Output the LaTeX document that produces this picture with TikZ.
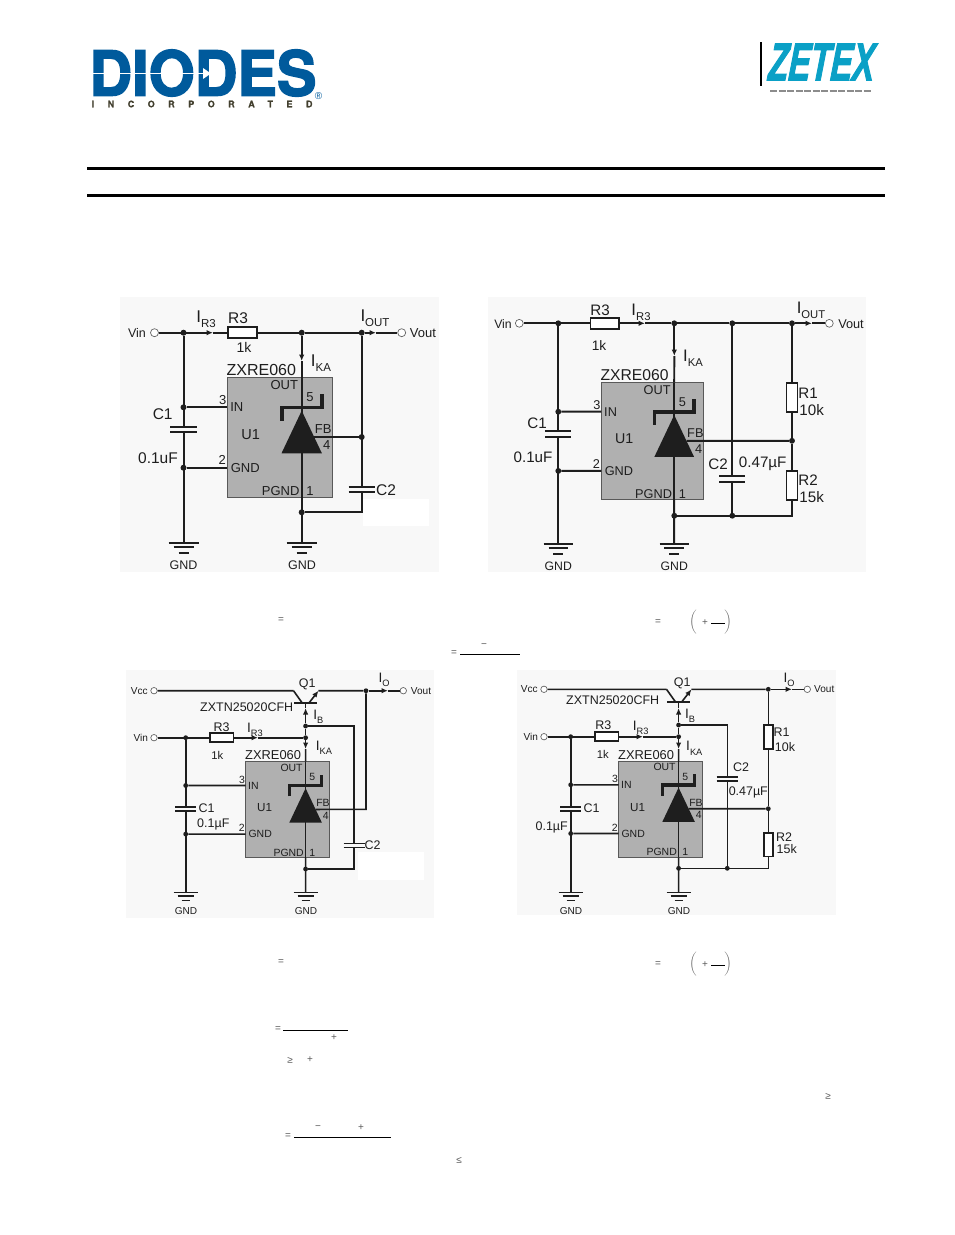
\documentclass[tikz,border=0pt]{standalone}
\usepackage{fontspec}
\setmainfont{Liberation Sans}
\newfontfamily\logofont[FakeBold=2.5]{TeX Gyre Heros}
\newfontfamily\incfont[LetterSpace=150,FakeBold=1]{TeX Gyre Heros}
\newfontfamily\zetexfont[FakeBold=2.5]{Liberation Sans}
\usetikzlibrary{arrows.meta}
\definecolor{diodesblue}{HTML}{005A9C}
\definecolor{zetexblue}{HTML}{0AA0C6}
\definecolor{icgray}{HTML}{B0B0B0}
\definecolor{panelgray}{HTML}{F8F8F8}
\definecolor{inkgray}{HTML}{1E1E1E}
\newcommand{\isub}[1]{I\raisebox{-.3em}{\fontsize{11.5}{12}\selectfont #1}}
\tikzset{
  every node/.append style={inner sep=0pt,text=inkgray},
  wire/.style={draw=inkgray,line width=2pt},
  circ/.style={every node/.append style={scale=#1},
    wire/.style={draw=inkgray,line width=#1*2pt}},
  flow/.style={-{Latex[length=6.5pt,width=5.5pt]}},
  lblA/.style={font=\fontsize{15.5}{16}\selectfont},
  lblB/.style={font=\fontsize{13}{14}\selectfont},
  lblC/.style={font=\fontsize{12.5}{13}\selectfont},
  jdot/.style={circle,fill=inkgray,minimum size=6pt},
  term/.style={circle,draw=black!60,line width=.7pt,fill=white,minimum size=8pt},
  reshoriz/.style={rectangle,draw=inkgray,line width=1.7pt,fill=white,minimum width=29pt,minimum height=11pt},
  resvert/.style={rectangle,draw=inkgray,line width=1.7pt,fill=white,minimum width=11pt,minimum height=29pt},
  capvert/.style={rectangle,minimum width=26pt,minimum height=5pt,
    append after command={(\tikzlastnode.north west) edge[wire] (\tikzlastnode.north east)
      (\tikzlastnode.south west) edge[wire] (\tikzlastnode.south east)}},
  eqmark/.style={text=black!65,font=\fontsize{10}{11}\selectfont},
  regic/.pic={
    \node[rectangle,draw=black!65,line width=1pt,fill=icgray,minimum width=104.7pt,minimum height=119.6pt] (-box) at (52.35,59.8) {};
    \coordinate (-out) at (74.4,0);
    \coordinate (-pgnd) at (74.4,119.6);
    \coordinate (-in) at (0,29.6);
    \coordinate (-gnd) at (0,90);
    \coordinate (-fb) at (87,59.3);
    \draw[wire] (-out) -- (-pgnd);
    \draw[line width=3.6pt,inkgray,line join=miter] (54.4,43) -- (54.4,29.6) -- (94.4,29.6) -- (94.4,16.3);
    \fill[inkgray] (74.4,33) -- (94.6,75.6) -- (54.2,75.6) -- cycle;
    \node[lblA] (-name) at (34,-8) {\fontsize{16}{16}\selectfont ZXRE060};
    \node[lblB] (-tout) at (57,7.5) {OUT};
    \node[lblB] (-t5) at (82.7,19.5) {5};
    \node[lblB] (-tfb) at (96,51.5) {FB};
    \node[lblB] (-t4) at (99.4,67.5) {4};
    \node[lblB] (-t1) at (82.7,113.5) {1};
    \node[lblB] (-tp) at (53.4,113.5) {PGND};
    \node[lblB] (-t3) at (-4.5,22.5) {3};
    \node[lblB] (-tin) at (9.5,29.6) {IN};
    \node[lblB] (-t2) at (-5,82.5) {2};
    \node[lblB] (-tg) at (18,90) {GND};
    \node[font=\fontsize{14.5}{15}\selectfont] (-tu) at (23.4,57.3) {U1};
  },
  gndbars/.pic={
    \coordinate (-top) at (0,0);
    \draw[wire] (-15,0) -- (15,0);
    \draw[wire] (-10,4.5) -- (10,4.5);
    \draw[wire] (-5,10) -- (5,10);
  },
  npnq/.pic={
    \coordinate (-b) at (0,0);
    \coordinate (-c) at (-15,-15.5);
    \coordinate (-e) at (16,-15.5);
    \draw[wire] (-14,0) -- (14,0);
    \draw[wire] (-c) -- (-4,0);
    \draw[wire,flow] (4,0) -- (-e);
  }
}
\begin{document}
\begin{tikzpicture}[x=1pt,y=-1pt]
\useasboundingbox (0,0) rectangle (954,1235);

\node[font=\logofont\bfseries\fontsize{62}{62}\selectfont,text=diodesblue,xscale=.955] (diodes) at (203,73) {DIODES};
\draw[white,line width=1.2pt] (92,73.5) -- (203,73.5);
\fill[white] (203,68) -- (211,73.5) -- (203,79) -- cycle;
\node[text=diodesblue,font=\fontsize{10}{10}\selectfont] (regmark) at (318.5,96) {®};
\node[anchor=west,font=\incfont\bfseries\fontsize{9}{9}\selectfont,text=black!70!olive] (inc) at (91.5,104) {INCORPORATED};
\draw[line width=1.2pt] (761,42) -- (761,86);
\node[font=\zetexfont\bfseries\itshape\fontsize{53}{53}\selectfont,text=zetexblue,xscale=.62,xslant=.12] (zetex) at (822,62) {ZETEX};
\draw[black!45,line width=1.2pt,dash pattern=on 7pt off 1.5pt] (770,91) -- (872,91);

\draw[line width=3pt] (87,168.5) -- (885,168.5);
\draw[line width=3pt] (87,195.5) -- (885,195.5);

\fill[panelgray] (120,297) rectangle (439,572);
\fill[white] (363,499) rectangle (429,526);
\fill[panelgray] (488,297) rectangle (866,572);
\fill[panelgray] (126,670) rectangle (434,918);
\fill[white] (358,852) rectangle (424,880);
\fill[panelgray] (517,670) rectangle (836,915);

% first circuit
\begin{scope}[circ=1]
\pic (ua) at (227.3,377.7) {regic};
\node[lblC] (tvina) at (137,333) {Vin};
\node[term] (vina) at (154.5,332.7) {};
\node[jdot] (ja1) at (183.5,332.7) {};
\node[reshoriz] (r3a) at (242.5,332.7) {};
\node[jdot] (ja2) at (301.7,332.7) {};
\node[jdot] (ja3) at (361.7,332.7) {};
\node[term] (vouta) at (401.7,332.7) {};
\node[lblB] (tvouta) at (423,333) {Vout};
\node[jdot] (ja4) at (183.5,407.3) {};
\node[jdot] (ja5) at (183.5,467.7) {};
\node[capvert] (c1a) at (183.5,429.7) {};
\node[capvert] (c2a) at (361.7,489.5) {};
\node[jdot] (ja6) at (361.7,437) {};
\node[jdot] (ja7) at (301.7,512.3) {};
\coordinate (fa1) at (213,332.7);
\coordinate (fa2) at (376,332.7);
\coordinate (fa3) at (301.7,361);
\coordinate (ca1) at (361.7,512.3);
\pic (ga1) at (183.5,542.7) {gndbars};
\pic (ga2) at (301.7,542.7) {gndbars};
\draw[wire,flow] (vina) -- (fa1);
\draw[wire] (fa1) -- (r3a);
\draw[wire] (r3a) -- (ja2);
\draw[wire] (ja2) -- (ja3);
\draw[wire,flow] (ja3) -- (fa2);
\draw[wire] (fa2) -- (vouta);
\draw[wire,flow] (ja2) -- (fa3);
\draw[wire] (fa3) -- (ua-out);
\draw[wire] (ja1) -- (c1a) -- (ga1-top);
\draw[wire] (ja4) -- (ua-in);
\draw[wire] (ja5) -- (ua-gnd);
\draw[wire] (ja3) -- (c2a) -- (ca1) -- (ja7);
\draw[wire] (ua-fb) -- (ja6);
\draw[wire] (ua-pgnd) -- (ga2-top);
\node[lblA] (lira) at (206,319) {\fontsize{17}{17}\selectfont\isub{R3}};
\node[lblA] (lr3a) at (238,318) {R3};
\node[lblA] (l1ka) at (244,347) {\fontsize{14}{14}\selectfont 1k};
\node[lblA] (lioa) at (375,318) {\fontsize{17}{17}\selectfont\isub{OUT}};
\node[lblA] (lika) at (321,363) {\fontsize{17}{17}\selectfont\isub{KA}};
\node[lblA] (lc1a) at (162.7,414) {C1};
\node[lblA] (lc0a) at (158,458) {0.1uF};
\node[lblA] (lc2a) at (386,490) {C2};
\node[lblC] (lg1a) at (183.5,565) {GND};
\node[lblC] (lg2a) at (302,565) {GND};
\end{scope}

% second circuit
\begin{scope}[circ=.98]
\pic (ub) at (601.3,382.7) {regic};
\node[lblC] (tvinb) at (503,324) {Vin};
\node[term] (vinb) at (519.3,323.3) {};
\node[jdot] (jb1) at (558.3,323.3) {};
\node[reshoriz] (r3b) at (604.7,323.3) {};
\node[jdot] (jb2) at (674.3,323.3) {};
\node[jdot] (jb3) at (732.3,323.3) {};
\node[jdot] (jb4) at (792,323.3) {};
\node[term] (voutb) at (829.3,323.3) {};
\node[lblB] (tvoutb) at (851,324) {Vout};
\node[jdot] (jb5) at (558.3,411.7) {};
\node[jdot] (jb6) at (558.3,470.9) {};
\node[capvert] (c1b) at (558.3,434) {};
\node[capvert] (c2b) at (732.3,479) {};
\node[resvert] (r1b) at (792,397.5) {};
\node[resvert] (r2b) at (792,485.5) {};
\node[jdot] (jb7) at (792,440.8) {};
\node[jdot] (jb8) at (674.3,515.7) {};
\node[jdot] (jb9) at (732.3,515.7) {};
\coordinate (fb1) at (645,323.3);
\coordinate (fb2) at (812,323.3);
\coordinate (fb3) at (674.3,356);
\coordinate (cb1) at (792,515.7);
\pic (gb1) at (558.3,544) {gndbars};
\pic (gb2) at (674.2,544) {gndbars};
\draw[wire] (vinb) -- (r3b);
\draw[wire,flow] (r3b) -- (fb1);
\draw[wire] (fb1) -- (jb2) -- (jb3) -- (jb4);
\draw[wire,flow] (jb4) -- (fb2);
\draw[wire] (fb2) -- (voutb);
\draw[wire,flow] (jb2) -- (fb3);
\draw[wire] (fb3) -- (ub-out);
\draw[wire] (jb1) -- (c1b) -- (gb1-top);
\draw[wire] (jb5) -- (ub-in);
\draw[wire] (jb6) -- (ub-gnd);
\draw[wire] (jb3) -- (c2b) -- (jb9);
\draw[wire] (jb4) -- (r1b) -- (jb7) -- (r2b) -- (cb1) -- (jb8);
\draw[wire] (ub-fb) -- (jb7);
\draw[wire] (ub-pgnd) -- (gb2-top);
\node[lblA] (lirb) at (641,312) {\fontsize{17}{17}\selectfont\isub{R3}};
\node[lblA] (lr3b) at (600,310) {R3};
\node[lblA] (l1kb) at (599,346) {\fontsize{14}{14}\selectfont 1k};
\node[lblA] (liob) at (811,310) {\fontsize{17}{17}\selectfont\isub{OUT}};
\node[lblA] (likb) at (693,358) {\fontsize{17}{17}\selectfont\isub{KA}};
\node[lblA] (lc1b) at (537,423) {C1};
\node[lblA] (lc0b) at (533,457) {0.1uF};
\node[lblA] (lc2b) at (718,464) {C2};
\node[lblA] (lc3b) at (762.7,464) {0.47µF};
\node[lblA] (lr1b) at (808,393) {R1};
\node[lblA] (lk1b) at (811.7,410) {10k};
\node[lblA] (lr2b) at (808,480) {R2};
\node[lblA] (lk2b) at (811.7,497.3) {15k};
\node[lblC] (lg1b) at (558.3,566) {GND};
\node[lblC] (lg2b) at (674.3,566) {GND};
\end{scope}

% third circuit
\begin{scope}[circ=.805]
\pic (uc) at (245.7,761.7) {regic};
\pic (qc) at (305.6,703.2) {npnq};
\node[lblC] (tvccc) at (139.3,691) {Vcc};
\node[term] (vccc) at (154,690.7) {};
\node[jdot] (jc1) at (366,690.7) {};
\node[term] (voutc) at (403.3,690.7) {};
\node[lblC] (tvoutc) at (421,691) {Vout};
\node[lblC] (tvinc) at (140.7,738) {Vin};
\node[term] (vinc) at (154,737.7) {};
\node[jdot] (jc2) at (185.7,737.7) {};
\node[reshoriz] (r3c) at (221.8,737.7) {};
\node[jdot] (jc3) at (305.6,737.7) {};
\node[jdot] (jc4) at (305.6,726) {};
\node[jdot] (jc5) at (185.7,785.5) {};
\node[jdot] (jc6) at (185.7,834.1) {};
\node[capvert] (c1c) at (185.7,809) {};
\node[capvert] (c2c) at (354.3,845.5) {};
\node[jdot] (jc7) at (305.6,869) {};
\coordinate (fc1) at (388,690.7);
\coordinate (fc2) at (258,737.7);
\coordinate (fc3) at (305.6,708);
\coordinate (fc4) at (305.6,749);
\coordinate (cc1) at (354.3,726);
\coordinate (cc2) at (354.3,869);
\coordinate (cc3) at (366,809.4);
\pic (gc1) at (185.7,892.3) {gndbars};
\pic (gc2) at (305.6,892.3) {gndbars};
\draw[wire] (vccc) -- (qc-c);
\draw[wire] (qc-e) -- (jc1);
\draw[wire,flow] (jc1) -- (fc1);
\draw[wire] (fc1) -- (voutc);
\draw[wire] (vinc) -- (r3c);
\draw[wire,flow] (r3c) -- (fc2);
\draw[wire] (fc2) -- (jc3);
\draw[wire,flow] (jc4) -- (fc3);
\draw[wire] (fc3) -- (qc-b);
\draw[wire] (jc4) -- (jc3);
\draw[wire,flow] (jc3) -- (fc4);
\draw[wire] (fc4) -- (uc-out);
\draw[wire] (jc2) -- (c1c) -- (gc1-top);
\draw[wire] (jc5) -- (uc-in);
\draw[wire] (jc6) -- (uc-gnd);
\draw[wire] (jc4) -- (cc1) -- (c2c) -- (cc2) -- (jc7);
\draw[wire] (uc-fb) -- (cc3) -- (jc1);
\draw[wire] (uc-pgnd) -- (gc2-top);
\node[lblA] (lqc) at (307.3,684) {Q1};
\node[lblA] (lqnc) at (246.7,707.3) {ZXTN25020CFH};
\node[lblA] (lioc) at (384,680) {\fontsize{17}{17}\selectfont\isub{O}};
\node[lblA] (libc) at (318.3,717) {\fontsize{17}{17}\selectfont\isub{B}};
\node[lblA] (lirc) at (255,730) {\fontsize{17}{17}\selectfont\isub{R3}};
\node[lblA] (lr3c) at (221.7,726.7) {R3};
\node[lblA] (l1kc) at (217.3,755) {\fontsize{14}{14}\selectfont 1k};
\node[lblA] (likc) at (324,748) {\fontsize{17}{17}\selectfont\isub{KA}};
\node[lblA] (lc1c) at (206.7,808.3) {C1};
\node[lblA] (lc0c) at (213.3,824.3) {0.1µF};
\node[lblA] (lc2c) at (372.7,845) {C2};
\node[lblC] (lg1c) at (186,910.7) {GND};
\node[lblC] (lg2c) at (306,910.7) {GND};
\end{scope}

% fourth circuit
\begin{scope}[circ=.805]
\pic (ud) at (618.7,761) {regic};
\pic (qd) at (678.6,701.8) {npnq};
\node[lblC] (tvccd) at (529.3,689.5) {Vcc};
\node[term] (vccd) at (544,689.3) {};
\node[jdot] (jd1) at (768.3,689.3) {};
\node[term] (voutd) at (807.3,689.3) {};
\node[lblC] (tvoutd) at (824.3,689.5) {Vout};
\node[lblC] (tvind) at (530.7,737) {Vin};
\node[term] (vind) at (544,736.7) {};
\node[jdot] (jd2) at (570.7,736.7) {};
\node[reshoriz] (r3d) at (606.8,736.7) {};
\node[jdot] (jd3) at (678.6,736.7) {};
\node[jdot] (jd4) at (678.6,725) {};
\node[jdot] (jd5) at (570.7,784.8) {};
\node[jdot] (jd6) at (570.7,833.5) {};
\node[capvert] (c1d) at (570.7,809) {};
\node[capvert] (c2d) at (727.3,779) {};
\node[resvert] (r1d) at (768.3,737) {};
\node[resvert] (r2d) at (768.3,844.7) {};
\node[jdot] (jd7) at (768.3,808.7) {};
\node[jdot] (jd8) at (678.6,868.3) {};
\node[jdot] (jd9) at (727.3,868.3) {};
\coordinate (fd1) at (792,689.3);
\coordinate (fd2) at (643,736.7);
\coordinate (fd3) at (678.6,708);
\coordinate (fd4) at (678.6,749);
\coordinate (cd1) at (727.3,725);
\coordinate (cd2) at (768.3,868.3);
\pic (gd1) at (570.7,892.3) {gndbars};
\pic (gd2) at (678.6,892.3) {gndbars};
\draw[wire] (vccd) -- (qd-c);
\draw[wire] (qd-e) -- (jd1);
\draw[wire,flow] (jd1) -- (fd1);
\draw[wire] (fd1) -- (voutd);
\draw[wire] (vind) -- (r3d);
\draw[wire,flow] (r3d) -- (fd2);
\draw[wire] (fd2) -- (jd3);
\draw[wire,flow] (jd4) -- (fd3);
\draw[wire] (fd3) -- (qd-b);
\draw[wire] (jd4) -- (jd3);
\draw[wire,flow] (jd3) -- (fd4);
\draw[wire] (fd4) -- (ud-out);
\draw[wire] (jd2) -- (c1d) -- (gd1-top);
\draw[wire] (jd5) -- (ud-in);
\draw[wire] (jd6) -- (ud-gnd);
\draw[wire] (jd4) -- (cd1) -- (c2d) -- (jd9);
\draw[wire] (jd1) -- (r1d) -- (jd7) -- (r2d) -- (cd2) -- (jd8);
\draw[wire] (ud-fb) -- (jd7);
\draw[wire] (ud-pgnd) -- (gd2-top);
\node[lblA] (lqd) at (682.3,683.3) {Q1};
\node[lblA] (lqnd) at (612.7,700) {ZXTN25020CFH};
\node[lblA] (liod) at (789,680) {\fontsize{17}{17}\selectfont\isub{O}};
\node[lblA] (libd) at (690,716) {\fontsize{17}{17}\selectfont\isub{B}};
\node[lblA] (lird) at (640.7,728) {\fontsize{17}{17}\selectfont\isub{R3}};
\node[lblA] (lr3d) at (603.3,725) {R3};
\node[lblA] (l1kd) at (602.7,754.3) {\fontsize{14}{14}\selectfont 1k};
\node[lblA] (likd) at (694.3,748.3) {\fontsize{17}{17}\selectfont\isub{KA}};
\node[lblA] (lc1d) at (591.7,808.3) {C1};
\node[lblA] (lc0d) at (551.7,827.3) {0.1µF};
\node[lblA] (lc2d) at (741,766.7) {C2};
\node[lblA] (lc3d) at (748.3,792.3) {0.47µF};
\node[lblA] (lr1d) at (781.7,731.7) {R1};
\node[lblA] (lk1d) at (785,747.3) {10k};
\node[lblA] (lr2d) at (784,836.7) {R2};
\node[lblA] (lk2d) at (786.7,849) {15k};
\node[lblC] (lg1d) at (571,910.7) {GND};
\node[lblC] (lg2d) at (679,910.7) {GND};
\end{scope}

\foreach \i/\x/\y/\s in {1/281/620.5/=,2/658/622.5/=,3/705/622.5/+,4/454/653.5/=,5/484/646/−,
  6/281/962/=,7/658/964.5/=,8/705/964.5/+,9/278/1029/=,10/334/1038/+,11/290/1060/≥,12/310/1060/+,
  13/828/1096/≥,14/288/1136/=,15/318/1128/−,16/361/1128/+,17/459/1160/≤}
  \node[eqmark] (eq\i) at (\x,\y) {\s};
\foreach \i/\x/\y in {1/693/622.5,2/693/964.5}
  \node[text=black!60] (pl\i) at (\x,\y) {$\bigg($};
\foreach \i/\x/\y in {1/728/622.5,2/728/964.5}
  \node[text=black!60] (pr\i) at (\x,\y) {$\bigg)$};
\draw[line width=1pt] (711,623) -- (725,623);
\draw[line width=1pt] (711,965) -- (725,965);
\draw[line width=1pt] (460,654) -- (520,654);
\draw[line width=1pt] (283,1030) -- (348,1030);
\draw[line width=1pt] (294,1137) -- (391,1137);
\end{tikzpicture}
\end{document}
